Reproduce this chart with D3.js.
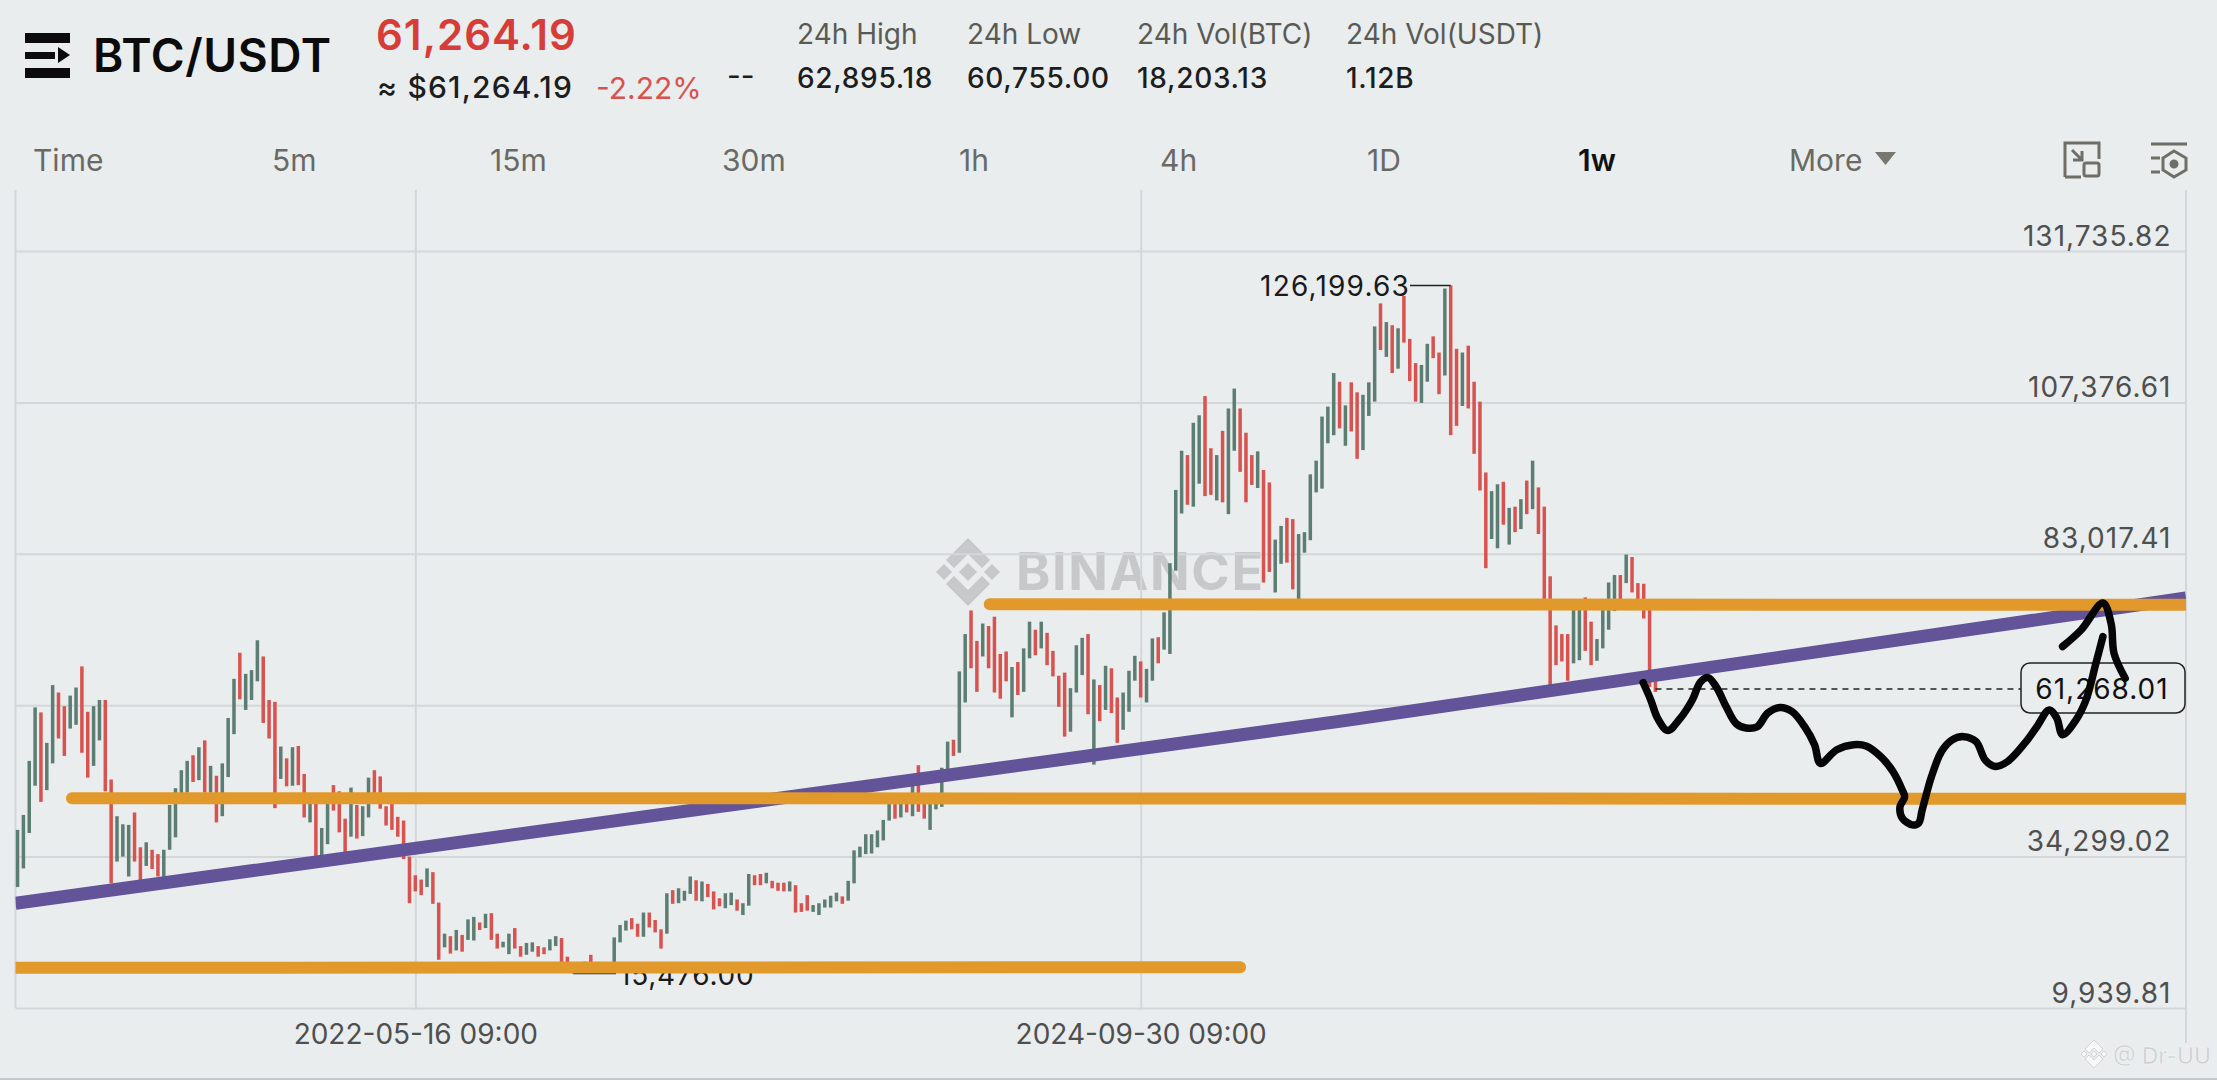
<!DOCTYPE html>
<html>
<head>
<meta charset="utf-8">
<script src="https://cdn.jsdelivr.net/npm/d3@7"></script>
<style>
html, body { margin: 0; background: #e9edee; }
svg { display: block; font-family: Inter, "Open Sans", sans-serif; }
.axis .domain { display: none; }
.axis line { stroke: #d3d7d9; stroke-width: 2; }
.axis text { fill: #4f4f4f; font-size: 28px; font-family: Inter, sans-serif; }
</style>
</head>
<body>
<svg id="chart" width="2217" height="1080"></svg>
<script>
// weekly bars, thousand USDT
var opens = [
  29.4,32.4,38.1,45.7,57.5,45.0,49.3,60.7,58.5,54.9,
  55.5,64.9,57.6,48.9,53.0,59.5,46.7,33.5,34.3,31.1,
  41.4,35.8,32.8,35.4,34.7,31.0,35.4,37.4,42.9,44.6,
  50.6,46.6,53.0,44.6,47.3,40.8,47.1,54.0,67.1,57.9,
  59.5,62.5,66.5,59.5,59.2,46.8,50.1,45.7,52.1,47.6,
  39.8,42.9,34.3,36.3,45.8,44.8,40.4,37.5,42.6,37.6,
  40.6,48.2,47.2,42.4,42.9,40.7,40.1,34.3,31.3,30.6,
  29.4,31.8,26.9,19.7,21.5,19.2,21.7,20.9,20.8,23.7,
  22.8,25.2,21.9,19.7,18.6,22.8,19.9,18.5,19.0,19.9,
  19.7,19.2,19.9,21.2,18.2,17.1,16.0,16.1,18.5,16.3,
  17.1,16.3,16.9,20.5,22.4,24.4,23.5,21.4,25.3,24.1,
  22.6,21.9,28.9,26.8,27.2,28.3,30.5,27.1,29.9,28.7,
  27.6,26.0,26.5,27.4,24.9,26.4,31.3,31.5,30.0,30.4,
  30.1,30.1,28.7,29.7,26.8,28.1,25.4,24.9,26.1,26.1,
  27.1,27.9,27.2,30.0,34.2,34.7,34.8,35.8,36.9,40.1,
  44.0,40.6,43.9,40.8,49.0,43.9,38.6,41.9,42.3,48.3,
  53.1,51.0,59.1,73.9,69.0,66.5,71.4,72.9,66.9,67.3,
  56.7,65.6,60.8,66.2,70.8,67.8,70.3,67.4,63.4,63.9,
  54.4,60.7,63.5,70.1,49.1,61.9,57.9,64.6,59.9,54.7,
  57.6,62.6,65.7,59.1,62.6,69.6,67.6,66.9,80.3,89.5,
  98.9,90.6,94.3,108.4,100.0,91.6,102.8,89.4,99.6,106.4,
  102.5,98.9,93.6,96.5,94.5,76.8,81.4,88.8,88.6,75.6,
  83.2,85.2,92.9,93.5,100.8,102.1,110.7,100.4,110.6,109.0,
  99.7,105.2,107.5,123.3,114.7,119.8,112.8,124.5,117.6,113.7,
  107.3,110.7,118.0,115.4,111.7,126.2,116.0,106.8,116.5,110.7,
  107.5,96.1,85.4,83.9,94.6,84.5,90.6,87.0,94.8,90.2,
  93.7,90.6,79.4,71.5,70.1,70.1,65.4,65.9,76.0,72.1,
  65.8,67.8,70.8,73.8,79.6,78.3,82.5,78.3,78.2,74.0,
  62.5
];
var closes = [
  38.6,41.0,49.7,58.3,43.1,52.6,61.9,53.3,50.5,60.2,
  61.5,51.0,47.0,58.5,59.5,44.8,30.0,40.8,39.5,39.4,
  33.5,30.3,36.6,32.3,31.1,35.4,42.6,45.3,48.2,49.7,
  46.3,51.9,44.6,48.9,39.8,49.3,56.6,62.9,59.6,63.7,
  64.3,69.1,55.8,53.3,42.1,52.0,45.6,51.9,45.8,40.6,
  43.1,34.3,38.9,42.8,41.7,38.2,34.8,45.4,37.2,42.4,
  47.0,42.9,42.0,39.3,38.6,37.5,33.9,26.8,28.7,28.1,
  32.4,26.7,17.7,21.9,18.7,22.5,19.0,24.2,24.6,22.5,
  25.1,20.9,19.5,20.6,21.9,19.5,18.2,20.4,20.5,18.2,
  18.6,21.0,21.5,17.1,15.8,15.5,17.1,17.4,16.3,17.1,
  16.3,17.1,21.3,23.3,24.0,22.6,21.4,25.3,22.9,22.1,
  19.5,28.4,26.7,29.2,28.8,31.1,27.2,30.3,27.8,25.8,
  26.3,28.4,28.5,25.6,26.8,31.5,29.7,29.7,31.7,29.2,
  28.8,28.7,30.3,25.3,25.4,25.6,26.5,26.8,27.4,28.0,
  28.5,26.7,30.4,35.3,35.9,37.9,37.9,38.5,40.2,44.5,
  40.4,43.9,41.4,46.1,41.5,40.4,43.9,43.9,48.6,52.8,
  50.5,64.1,70.1,64.6,60.8,71.8,64.6,60.7,59.7,62.5,
  64.8,60.3,67.8,72.1,66.7,72.1,65.1,63.3,58.4,53.6,
  61.4,68.3,69.5,57.2,62.8,56.1,65.0,57.4,52.6,60.7,
  64.2,66.6,59.9,64.5,69.4,65.4,73.6,81.5,93.3,99.6,
  90.9,104.1,105.3,92.3,92.5,98.9,91.3,106.4,109.6,96.2,
  91.3,94.1,99.5,78.4,80.1,85.3,87.5,81.6,77.3,86.2,
  86.5,95.8,98.0,105.1,106.7,112.1,103.2,106.9,102.7,98.3,
  108.6,110.6,119.6,115.8,120.3,112.1,119.3,117.0,110.8,107.5,
  113.4,116.8,114.5,108.7,125.7,102.1,103.6,115.4,106.4,99.1,
  93.2,80.7,93.1,94.2,87.7,90.4,86.5,91.8,89.4,98.0,
  86.2,74.5,61.8,65.1,65.7,62.6,74.2,74.2,67.4,65.1,
  69.3,74.2,78.4,79.6,75.6,82.9,76.8,75.6,72.6,61.6,
  60.8
];

// price axis
var priceTicks = [9939.81, 34299.02, 58658.21, 83017.41, 107376.61, 131735.82];
var priceLabels = ["9,939.81", "34,299.02", "", "83,017.41", "107,376.61", "131,735.82"];
// time axis
var timeTickBars = [68, 192];
var timeLabels = ["2022-05-16 09:00", "2024-09-30 09:00"];

// chart extremes and last price
var highBar = 245, highPrice = 126199.63, highLabel = "126,199.63";
var lowBar = 95, lowPrice = 15476, lowLabel = "15,476.00";
var lastBar = 280, lastPrice = 61268.01, lastLabel = "61,268.01";

// lines drawn over the chart: bar position and price in thousands
var supportBars = [[166.2, 371.7], [9.3, 371.7], [-1.35, 209]];
var supportPrices = [[74.9, 74.8], [43.7, 43.6], [16.4, 16.5]];
var trendBars = [-0.35, 227.8, 370.7];
var trendPrices = [26.8, 56.3, 75.9];

var sketchBars = [277.9,279.2,280.4,282.1,284.2,286.3,287.7,289.0,290.4,292.1,293.8,295.5,297.4,299.2,301.3,303.4,305.5,307.2,308.2,311.0,313.9,316.0,318.5,320.6,322.2,322.6,321.8,322.2,323.9,325.0,325.6,327.2,328.9,330.6,332.7,334.8,336.4,338.1,340.2,343.1,345.2,347.3,348.6,349.6,351.9,353.6,355.3,356.5];
var sketchPrices = [62.3,59.5,56.5,54.6,56.5,59.5,62.4,63.1,61.6,58.4,55.7,55.0,55.2,57.4,58.3,57.6,55.2,52.3,49.3,51.5,52.3,52.1,50.4,48.0,45.0,43.9,42.3,40.5,39.4,39.7,41.8,47.2,51.2,53.0,53.6,52.8,49.8,48.8,49.6,52.5,55.2,57.9,56.6,53.9,56.3,59.5,65.4,69.7];
var arrowBars = [349.6,352.8,356.5,357.9,358.4,360.3];
var arrowPrices = [68.1,70.8,75.1,71.8,67.0,63.0];

// header
var tabs = ["Time", "5m", "15m", "30m", "1h", "4h", "1D", "1w", "More"];
var tabLeft = [33, 272, 490, 722, 959, 1160, 1367, 1578, 1789];
var statNames = ["24h High", "24h Low", "24h Vol(BTC)", "24h Vol(USDT)"];
var statValues = ["62,895.18", "60,755.00", "18,203.13", "1.12B"];
var statLeft = [797, 967, 1137, 1346];

var svg = d3.select("#chart");

var plotLeft = 15.5, plotRight = 2186, plotTop = 190;
var x = d3.scaleLinear().domain([-0.35, 370.7]).range([plotLeft, plotRight]);
var y = d3.scaleLinear().domain([9939.81, 131735.82]).range([1008, 251]);
var yk = function(v) { return y(v * 1000); };

var red = "#d8534f", green = "#5c7d72";

// ---- header
var logo = svg.append("g").attr("fill", "#0b0b0b");
logo.append("rect").attr("x", 25).attr("y", 33).attr("width", 45).attr("height", 10);
logo.append("rect").attr("x", 25).attr("y", 68).attr("width", 45).attr("height", 10);
logo.append("rect").attr("x", 25).attr("y", 52).attr("width", 30).attr("height", 7);
logo.append("path").attr("d", "M58,47L70,55L58,63Z");

function label(txt, px, py, size, fill, weight, spacing) {
  return svg.append("text").attr("x", px).attr("y", py).text(txt)
    .attr("font-size", size).attr("fill", fill).attr("font-weight", weight || 400)
    .style("letter-spacing", (spacing || 0) + "px");
}

label("BTC/USDT", 93, 72, 46, "#0b0b0b", 600, 0.6);
label("61,264.19", 376, 50, 42, "#d63c38", 600, 1);
label("≈ $61,264.19", 377, 98, 30, "#1d1d1d", 500, 1.2);
label("-2.22%", 596, 99, 30, "#d8534f", 400);
label("--", 727, 86, 30, "#1d1d1d", 400);

statNames.forEach(function(d, i) {
  label(d, statLeft[i], 44, 28, "#5a5a55");
  label(statValues[i], statLeft[i], 88, 28, "#1d1d1d", 500, 0.7);
});

tabs.forEach(function(d, i) {
  var on = d == "1w";
  label(d, tabLeft[i], 171, 30, on ? "#111" : "#6a6a65", on ? 600 : 400);
});
svg.append("path").attr("d", "M1875,152H1896L1885.5,165Z").attr("fill", "#77776f");

var icons = svg.append("g").attr("fill", "none").attr("stroke", "#6f6f68").attr("stroke-width", 3);
icons.append("path").attr("d", "M2065,177V143H2099V159M2081,177H2065");
icons.append("path").attr("d", "M2072,150L2082,160M2082,151V160H2073");
icons.append("rect").attr("x", 2084).attr("y", 163).attr("width", 15).attr("height", 13).attr("rx", 2);
icons.append("path").attr("d", "M2151,144H2187M2151,158H2160M2151,172H2160");
icons.append("path").attr("d", "M2174,151L2186,158V170L2174,177L2163,170V158Z");
icons.append("circle").attr("cx", 2174).attr("cy", 164).attr("r", 3).attr("fill", "#6f6f68");

// ---- BINANCE mark sits under the bars
var mark = svg.append("g").attr("fill", "#c6c8c9");
var markLogo = mark.append("g").attr("transform", "translate(968,572)");
markLogo.append("path").attr("d", "M0,-34L22,-12L14,-4L0,-18L-14,-4L-22,-12Z");
markLogo.append("path").attr("d", "M0,34L22,12L14,4L0,18L-14,4L-22,12Z");
markLogo.append("path").attr("d", "M0,-9L9,0L0,9L-9,0Z");
markLogo.append("path").attr("d", "M-24,-8L-16,0L-24,8L-32,0Z");
markLogo.append("path").attr("d", "M24,-8L32,0L24,8L16,0Z");
mark.append("text").attr("x", 1016).attr("y", 590).text("BINANCE")
  .attr("font-size", 52).attr("font-weight", 700).attr("textLength", 247);

// ---- grid and axes
svg.append("g").attr("class", "axis")
  .attr("transform", "translate(" + plotRight + ",0)")
  .call(d3.axisLeft(y).tickValues(priceTicks).tickSize(plotRight - plotLeft)
    .tickFormat(function(d, i) { return priceLabels[i]; }))
  .selectAll("text").attr("x", -14.5).attr("y", -6).attr("dy", 0).style("letter-spacing", "1px");

svg.append("g").attr("class", "axis")
  .attr("transform", "translate(0," + plotTop + ")")
  .call(d3.axisBottom(x).tickValues(timeTickBars).tickSize(820)
    .tickFormat(function(d, i) { return timeLabels[i]; }))
  .selectAll("text").attr("y", 854).attr("dy", 0);

svg.append("line").attr("x1", plotLeft).attr("x2", plotLeft).attr("y1", plotTop).attr("y2", 1008)
  .attr("stroke", "#d3d7d9").attr("stroke-width", 2);
svg.append("line").attr("x1", plotRight).attr("x2", plotRight).attr("y1", plotTop).attr("y2", 1043)
  .attr("stroke", "#d3d7d9").attr("stroke-width", 2);
svg.append("line").attr("x1", 0).attr("x2", 2217).attr("y1", 1079).attr("y2", 1079)
  .attr("stroke", "#c4c8ca").attr("stroke-width", 2);

// ---- weekly bars
svg.append("g").selectAll("rect")
  .data(opens)
  .enter().append("rect")
  .attr("x", function(d, i) { return x(i) - 1.75; })
  .attr("width", 3.5)
  .attr("y", function(d, i) { return yk(Math.max(d, closes[i])); })
  .attr("height", function(d, i) { return Math.abs(yk(d) - yk(closes[i])); })
  .attr("fill", function(d, i) { return closes[i] > d ? green : red; });

// ---- high and low labels
svg.append("path")
  .attr("d", "M" + x(highBar) + "," + y(highPrice) + "H1410")
  .attr("stroke", "#222").attr("stroke-width", 1.5);
label(highLabel, 1410, 296, 28, "#1a1a1a", 400, 1.2).attr("text-anchor", "end");

svg.append("path")
  .attr("d", "M" + x(lowBar) + "," + y(lowPrice) + "H616")
  .attr("stroke", "#222").attr("stroke-width", 1.5);
label(lowLabel, 619, 985, 28, "#1a1a1a", 400, 0.8);

// ---- last price
svg.append("path")
  .attr("d", "M" + x(lastBar) + "," + y(lastPrice) + "H2021")
  .attr("stroke", "#222").attr("stroke-width", 1.5).attr("stroke-dasharray", "6 5");

// ---- hand drawn lines
svg.append("defs").append("clipPath").attr("id", "plot")
  .append("rect").attr("x", plotLeft).attr("y", plotTop).attr("width", plotRight - plotLeft).attr("height", 860);

var trendLine = d3.line()
  .x(function(d) { return x(d[0]); })
  .y(function(d) { return yk(d[1]); });

var drawn = svg.append("g").attr("clip-path", "url(#plot)");
drawn.append("path")
  .attr("d", trendLine(d3.zip(trendBars, trendPrices)))
  .attr("fill", "none").attr("stroke", "#635399").attr("stroke-width", 13);

supportBars.forEach(function(b, i) {
  drawn.append("path")
    .attr("d", trendLine(d3.zip(b, supportPrices[i])))
    .attr("fill", "none").attr("stroke", "#e2992c").attr("stroke-width", 12)
    .attr("stroke-linecap", "round");
});

svg.append("rect").attr("x", 2021).attr("y", 663).attr("width", 164).attr("height", 50).attr("rx", 9)
  .attr("fill", "#e9edee").attr("stroke", "#222").attr("stroke-width", 1.5);
label(lastLabel, 2102, 699, 28, "#111", 400, 1).attr("text-anchor", "middle");

var sketch = d3.line()
  .x(function(d) { return x(d[0]); })
  .y(function(d) { return yk(d[1]); })
  .curve(d3.curveCatmullRom.alpha(0.5));

[[sketchBars, sketchPrices], [arrowBars, arrowPrices]].forEach(function(s) {
  svg.append("path")
    .attr("d", sketch(d3.zip(s[0], s[1])))
    .attr("fill", "none").attr("stroke", "#060606").attr("stroke-width", 7.5)
    .attr("stroke-linecap", "round").attr("stroke-linejoin", "round");
});

// ---- corner credit
var credit = svg.append("g").attr("transform", "translate(2094,1054)").attr("fill", "#f7f8f8")
  .attr("stroke", "#c8cccd").attr("stroke-width", 0.8);
credit.append("path").attr("d", "M0,-14L9,-5L5,-1L0,-6L-5,-1L-9,-5Z");
credit.append("path").attr("d", "M0,14L9,5L5,1L0,6L-5,1L-9,5Z");
credit.append("path").attr("d", "M0,-3L3,0L0,3L-3,0Z");
credit.append("path").attr("d", "M-10,-3L-7,0L-10,3L-13,0Z");
credit.append("path").attr("d", "M10,-3L13,0L10,3L7,0Z");
label("@ Dr-UU", 2113, 1064, 23, "#cbcfd1", 500).attr("stroke", "#f5f6f6").attr("stroke-width", 0.6);
</script>
</body>
</html>
